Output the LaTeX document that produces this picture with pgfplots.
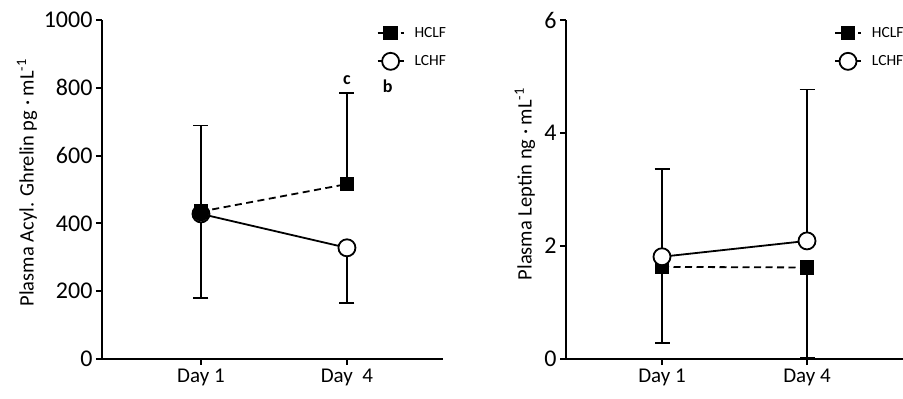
\documentclass[border=0pt]{standalone}
\usepackage{fontspec}
\setmainfont{Carlito}
\usepackage{pgfplots}
\pgfplotsset{compat=1.18}
\newcommand{\legtxt}[1]{\fontsize{15.5}{18}\selectfont #1}
\begin{document}
\begin{tikzpicture}
\useasboundingbox (0pt,0pt) rectangle (903pt,399pt);
\pgfplotsset{
 myax/.style={
  scale only axis, height=339pt, anchor=south west,
  axis x line*=bottom, axis y line*=left,
  axis line style={line width=2pt, -},
  tick style={line width=2pt, black},
  tick align=outside, major tick length=6pt,
  xtick={1,2},
  xticklabel style={font=\fontsize{21}{24}\selectfont},
  yticklabel style={font=\fontsize{24}{28}\selectfont},
  /pgf/number format/assume math mode=true,
  /pgf/number format/1000 sep={},
  ylabel style={font=\fontsize{20.5}{24}\selectfont, anchor=center},
  legend style={draw=none, fill=none, anchor=north west, row sep=12pt, inner sep=0pt, cells={anchor=west},
    /tikz/every odd column/.append style={column sep=8pt}},
  legend image code/.code={\draw[mark repeat=2,mark phase=2,#1] plot coordinates {(0pt,0pt)(13pt,0pt)(26pt,0pt)};},
  clip=false,
 },
 hclf/.style={black, line width=1.8pt, dash pattern=on 7pt off 4.5pt, mark=square*, mark size=6.5pt, mark options={solid, fill=black}},
 lchf/.style={black, line width=1.8pt, solid, mark=*, mark size=8.5pt, mark options={solid, fill=white}},
 ebplus/.style={error bars/.cd, y dir=plus, y explicit, error mark options={rotate=90, mark size=7.5pt, line width=1.8pt, solid, black}, error bar style={line width=1.8pt, solid}},
 ebminus/.style={error bars/.cd, y dir=minus, y explicit, error mark options={rotate=90, mark size=7.5pt, line width=1.8pt, solid, black}, error bar style={line width=1.8pt, solid}},
}
\begin{axis}[myax, at={(102pt,40pt)}, width=341pt, reverse legend,
  xmin=0.322, xmax=2.658, ymin=0, ymax=1000, ytick={0,200,400,600,800,1000},
  xticklabels={Day 1, Day\ \ 4},
  ylabel={Plasma Acyl. Ghrelin pg · mL\textsuperscript{-1}},
  ylabel style={at={(axis description cs:-0.22,0.52)}},
  legend style={at={(axis description cs:0.805,0.985)}}]
\addplot[lchf, ebminus] coordinates {(1,428) -= (0,249) (2,328) -= (0,163)};
\addlegendentry{\legtxt{LCHF}}
\addplot[hclf, ebplus] coordinates {(1,435) += (0,254) (2,516) += (0,269)};
\addlegendentry{\legtxt{HCLF}}
\addplot[forget plot, only marks, mark=*, mark size=8pt, black] coordinates {(1,430)};
\node[font=\bfseries\fontsize{18}{20}\selectfont] at (axis cs:2,823) {c};
\node[font=\bfseries\fontsize{18}{20}\selectfont] at (axis cs:2.28,805) {b};
\end{axis}
\begin{axis}[myax, at={(566pt,40pt)}, width=337pt,
  xmin=0.338, xmax=2.662, ymin=0, ymax=6, ytick={0,2,4,6},
  xticklabels={Day 1, Day 4},
  ylabel={Plasma Leptin ng · mL\textsuperscript{-1}},
  ylabel style={at={(axis description cs:-0.122,0.516)}},
  legend style={at={(axis description cs:0.795,0.985)}}]
\addplot[hclf, ebminus] coordinates {(1,1.63) -= (0,1.34) (2,1.62) -= (0,1.60)};
\addlegendentry{\legtxt{HCLF}}
\addplot[lchf, ebplus] coordinates {(1,1.81) += (0,1.55) (2,2.09) += (0,2.68)};
\addlegendentry{\legtxt{LCHF}}
\end{axis}
\end{tikzpicture}
\end{document}
